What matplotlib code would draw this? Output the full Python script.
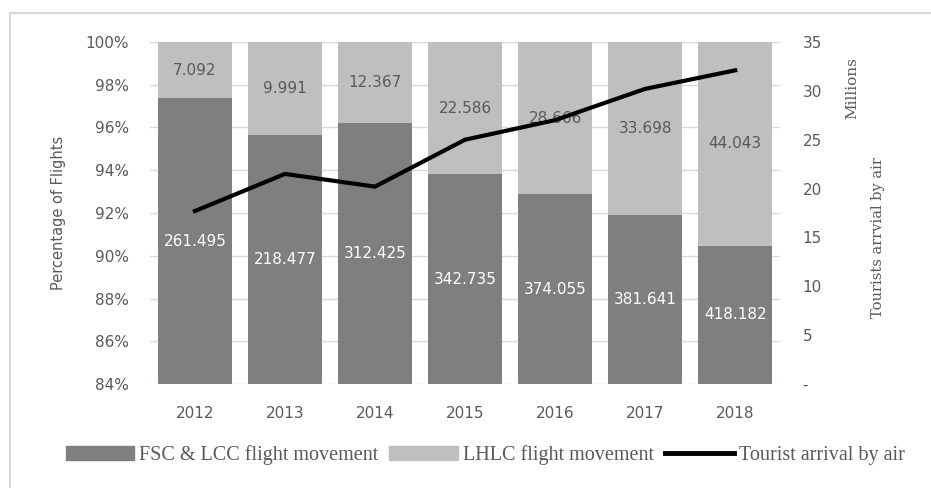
import matplotlib.pyplot as plt
from matplotlib.patches import Rectangle
from matplotlib.ticker import FuncFormatter

# flight movements per year, and tourist arrivals (millions)
years = ["2012", "2013", "2014", "2015", "2016", "2017", "2018"]
fsc_lcc = [261.495, 218.477, 312.425, 342.735, 374.055, 381.641, 418.182]
lhlc = [7.092, 9.991, 12.367, 22.586, 28.666, 33.698, 44.043]
tourists = [17.7, 21.5, 20.2, 25.0, 27.0, 30.2, 32.1]

dark = "#7f7f7f"
light = "#bfbfbf"
txt = "#595959"

# share of flights in percent
fsc_pct = [a / (a + b) * 100 for a, b in zip(fsc_lcc, lhlc)]
lhlc_pct = [100 - p for p in fsc_pct]

fig = plt.figure(figsize=(9.31, 4.88), dpi=100)
ax = fig.add_axes([0.161, 0.213, 0.677, 0.701])

x = list(range(len(years)))
ax.bar(x, fsc_pct, width=0.82, color=dark, zorder=2)
ax.bar(x, lhlc_pct, bottom=fsc_pct, width=0.82, color=light, zorder=2)

for i in x:
    ax.text(i, (84 + fsc_pct[i]) / 2, f"{fsc_lcc[i]:.3f}", ha="center", va="center",
            color="white", fontsize=11, zorder=3)
    ax.text(i, (fsc_pct[i] + 100) / 2, f"{lhlc[i]:.3f}", ha="center", va="center",
            color=txt, fontsize=11, zorder=3)

ax.set_xlim(-0.5, 6.5)
ax.set_ylim(84, 100)
ax.set_yticks(range(84, 101, 2))
ax.yaxis.set_major_formatter(FuncFormatter(lambda v, p: f"{v:.0f}%"))
ax.set_xticks(x)
ax.set_xticklabels(years)
ax.grid(axis="y", color="#d9d9d9", linewidth=1, zorder=0)
ax.set_axisbelow(True)
for s in ax.spines.values():
    s.set_visible(False)
ax.tick_params(axis="y", length=0, labelsize=11, colors=txt, pad=15)
ax.tick_params(axis="x", length=0, labelsize=11, colors=txt, pad=16)
ax.set_ylabel("Percentage of Flights", fontsize=10.5, color=txt, labelpad=14)

ax2 = ax.twinx()
ax2.plot(x, tourists, color="black", linewidth=3, zorder=4)
ax2.set_ylim(0, 35)
ax2.set_yticks(range(0, 36, 5))
ax2.yaxis.set_major_formatter(FuncFormatter(lambda v, p: "-" if v == 0 else f"{v:.0f}"))
for s in ax2.spines.values():
    s.set_visible(False)
ax2.tick_params(length=0, labelsize=11, colors=txt, pad=16)
fig.text(0.943, 0.514, "Tourists arrvial by air", rotation=90, ha="center", va="center",
         fontsize=10.5, color=txt, family="DejaVu Serif")
fig.text(0.915, 0.82, "Millions", rotation=90, ha="center", va="center",
         fontsize=11, color=txt, family="DejaVu Serif")

handles = [Rectangle((0, 0), 1, 1, color=dark), Rectangle((0, 0), 1, 1, color=light),
           plt.Line2D([0], [0], color="black", linewidth=3.5)]
fig.legend(handles, ["FSC & LCC flight movement", "LHLC flight movement", "Tourist arrival by air"],
           loc="center", bbox_to_anchor=(0.521, 0.068), ncol=3, frameon=False,
           prop={"family": "Liberation Serif", "size": 14.5}, labelcolor=txt,
           handlelength=3.4, handletextpad=0.25, columnspacing=0.55)

# light frame around the chart
fig.patches.append(Rectangle((0.0107, -0.1), 1.2, 1.073, transform=fig.transFigure,
                             fill=False, edgecolor="#d9d9d9", linewidth=1.5))

fig.savefig("out.png", dpi=100)
